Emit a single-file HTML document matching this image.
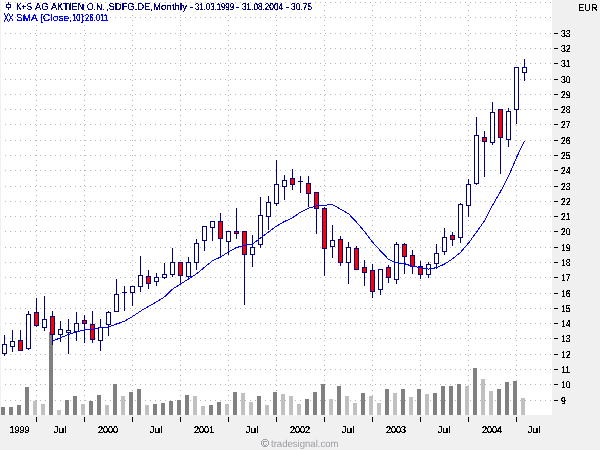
<!DOCTYPE html>
<html><head><meta charset="utf-8"><style>
html,body{margin:0;padding:0;}
body{width:600px;height:450px;background:#f0f0f0;position:relative;overflow:hidden;font-family:"Liberation Sans",Arial,sans-serif;text-rendering:geometricPrecision;}
#chart{position:absolute;left:0;top:0;}
.t{position:absolute;white-space:nowrap;font-size:10px;line-height:11px;filter:url(#th);transform-origin:0 0;transform:scaleX(0.868);}
.yl{position:absolute;left:561px;font-size:10px;line-height:12px;color:#000;filter:url(#th);transform-origin:0 0;transform:scaleX(0.87);}
.xl{position:absolute;top:425px;text-align:center;font-size:10px;line-height:12px;color:#000;filter:url(#th);transform:scaleX(0.9);}
</style></head><body>
<svg width="0" height="0" style="position:absolute"><filter id="th" x="0" y="0" width="100%" height="100%"><feComponentTransfer><feFuncA type="discrete" tableValues="0 1 1"/></feComponentTransfer></filter><filter id="th5" x="0" y="0" width="100%" height="100%"><feComponentTransfer><feFuncA type="discrete" tableValues="0 1"/></feComponentTransfer></filter></svg>
<svg id="chart" width="600" height="450" viewBox="0 0 600 450" shape-rendering="crispEdges">
<rect x="1" y="0" width="551" height="415" fill="#ffffff"/>
<path d="M5 400.5h1M10 400.5h1M15 400.5h1M20 400.5h1M25 400.5h1M30 400.5h1M35 400.5h1M40 400.5h1M45 400.5h1M50 400.5h1M55 400.5h1M60 400.5h1M65 400.5h1M70 400.5h1M75 400.5h1M80 400.5h1M85 400.5h1M90 400.5h1M95 400.5h1M100 400.5h1M105 400.5h1M110 400.5h1M115 400.5h1M120 400.5h1M125 400.5h1M130 400.5h1M135 400.5h1M140 400.5h1M145 400.5h1M150 400.5h1M155 400.5h1M160 400.5h1M165 400.5h1M170 400.5h1M175 400.5h1M180 400.5h1M185 400.5h1M190 400.5h1M195 400.5h1M200 400.5h1M205 400.5h1M210 400.5h1M215 400.5h1M220 400.5h1M225 400.5h1M230 400.5h1M235 400.5h1M240 400.5h1M245 400.5h1M250 400.5h1M255 400.5h1M260 400.5h1M265 400.5h1M270 400.5h1M275 400.5h1M280 400.5h1M285 400.5h1M290 400.5h1M295 400.5h1M300 400.5h1M305 400.5h1M310 400.5h1M315 400.5h1M320 400.5h1M325 400.5h1M330 400.5h1M335 400.5h1M340 400.5h1M345 400.5h1M350 400.5h1M355 400.5h1M360 400.5h1M365 400.5h1M370 400.5h1M375 400.5h1M380 400.5h1M385 400.5h1M390 400.5h1M395 400.5h1M400 400.5h1M405 400.5h1M410 400.5h1M415 400.5h1M420 400.5h1M425 400.5h1M430 400.5h1M435 400.5h1M440 400.5h1M445 400.5h1M450 400.5h1M455 400.5h1M460 400.5h1M465 400.5h1M470 400.5h1M475 400.5h1M480 400.5h1M485 400.5h1M490 400.5h1M495 400.5h1M500 400.5h1M505 400.5h1M510 400.5h1M515 400.5h1M520 400.5h1M525 400.5h1M530 400.5h1M535 400.5h1M540 400.5h1M545 400.5h1M550 400.5h1M5 384.5h1M10 384.5h1M15 384.5h1M20 384.5h1M25 384.5h1M30 384.5h1M35 384.5h1M40 384.5h1M45 384.5h1M50 384.5h1M55 384.5h1M60 384.5h1M65 384.5h1M70 384.5h1M75 384.5h1M80 384.5h1M85 384.5h1M90 384.5h1M95 384.5h1M100 384.5h1M105 384.5h1M110 384.5h1M115 384.5h1M120 384.5h1M125 384.5h1M130 384.5h1M135 384.5h1M140 384.5h1M145 384.5h1M150 384.5h1M155 384.5h1M160 384.5h1M165 384.5h1M170 384.5h1M175 384.5h1M180 384.5h1M185 384.5h1M190 384.5h1M195 384.5h1M200 384.5h1M205 384.5h1M210 384.5h1M215 384.5h1M220 384.5h1M225 384.5h1M230 384.5h1M235 384.5h1M240 384.5h1M245 384.5h1M250 384.5h1M255 384.5h1M260 384.5h1M265 384.5h1M270 384.5h1M275 384.5h1M280 384.5h1M285 384.5h1M290 384.5h1M295 384.5h1M300 384.5h1M305 384.5h1M310 384.5h1M315 384.5h1M320 384.5h1M325 384.5h1M330 384.5h1M335 384.5h1M340 384.5h1M345 384.5h1M350 384.5h1M355 384.5h1M360 384.5h1M365 384.5h1M370 384.5h1M375 384.5h1M380 384.5h1M385 384.5h1M390 384.5h1M395 384.5h1M400 384.5h1M405 384.5h1M410 384.5h1M415 384.5h1M420 384.5h1M425 384.5h1M430 384.5h1M435 384.5h1M440 384.5h1M445 384.5h1M450 384.5h1M455 384.5h1M460 384.5h1M465 384.5h1M470 384.5h1M475 384.5h1M480 384.5h1M485 384.5h1M490 384.5h1M495 384.5h1M500 384.5h1M505 384.5h1M510 384.5h1M515 384.5h1M520 384.5h1M525 384.5h1M530 384.5h1M535 384.5h1M540 384.5h1M545 384.5h1M550 384.5h1M5 369.5h1M10 369.5h1M15 369.5h1M20 369.5h1M25 369.5h1M30 369.5h1M35 369.5h1M40 369.5h1M45 369.5h1M50 369.5h1M55 369.5h1M60 369.5h1M65 369.5h1M70 369.5h1M75 369.5h1M80 369.5h1M85 369.5h1M90 369.5h1M95 369.5h1M100 369.5h1M105 369.5h1M110 369.5h1M115 369.5h1M120 369.5h1M125 369.5h1M130 369.5h1M135 369.5h1M140 369.5h1M145 369.5h1M150 369.5h1M155 369.5h1M160 369.5h1M165 369.5h1M170 369.5h1M175 369.5h1M180 369.5h1M185 369.5h1M190 369.5h1M195 369.5h1M200 369.5h1M205 369.5h1M210 369.5h1M215 369.5h1M220 369.5h1M225 369.5h1M230 369.5h1M235 369.5h1M240 369.5h1M245 369.5h1M250 369.5h1M255 369.5h1M260 369.5h1M265 369.5h1M270 369.5h1M275 369.5h1M280 369.5h1M285 369.5h1M290 369.5h1M295 369.5h1M300 369.5h1M305 369.5h1M310 369.5h1M315 369.5h1M320 369.5h1M325 369.5h1M330 369.5h1M335 369.5h1M340 369.5h1M345 369.5h1M350 369.5h1M355 369.5h1M360 369.5h1M365 369.5h1M370 369.5h1M375 369.5h1M380 369.5h1M385 369.5h1M390 369.5h1M395 369.5h1M400 369.5h1M405 369.5h1M410 369.5h1M415 369.5h1M420 369.5h1M425 369.5h1M430 369.5h1M435 369.5h1M440 369.5h1M445 369.5h1M450 369.5h1M455 369.5h1M460 369.5h1M465 369.5h1M470 369.5h1M475 369.5h1M480 369.5h1M485 369.5h1M490 369.5h1M495 369.5h1M500 369.5h1M505 369.5h1M510 369.5h1M515 369.5h1M520 369.5h1M525 369.5h1M530 369.5h1M535 369.5h1M540 369.5h1M545 369.5h1M550 369.5h1M5 354.5h1M10 354.5h1M15 354.5h1M20 354.5h1M25 354.5h1M30 354.5h1M35 354.5h1M40 354.5h1M45 354.5h1M50 354.5h1M55 354.5h1M60 354.5h1M65 354.5h1M70 354.5h1M75 354.5h1M80 354.5h1M85 354.5h1M90 354.5h1M95 354.5h1M100 354.5h1M105 354.5h1M110 354.5h1M115 354.5h1M120 354.5h1M125 354.5h1M130 354.5h1M135 354.5h1M140 354.5h1M145 354.5h1M150 354.5h1M155 354.5h1M160 354.5h1M165 354.5h1M170 354.5h1M175 354.5h1M180 354.5h1M185 354.5h1M190 354.5h1M195 354.5h1M200 354.5h1M205 354.5h1M210 354.5h1M215 354.5h1M220 354.5h1M225 354.5h1M230 354.5h1M235 354.5h1M240 354.5h1M245 354.5h1M250 354.5h1M255 354.5h1M260 354.5h1M265 354.5h1M270 354.5h1M275 354.5h1M280 354.5h1M285 354.5h1M290 354.5h1M295 354.5h1M300 354.5h1M305 354.5h1M310 354.5h1M315 354.5h1M320 354.5h1M325 354.5h1M330 354.5h1M335 354.5h1M340 354.5h1M345 354.5h1M350 354.5h1M355 354.5h1M360 354.5h1M365 354.5h1M370 354.5h1M375 354.5h1M380 354.5h1M385 354.5h1M390 354.5h1M395 354.5h1M400 354.5h1M405 354.5h1M410 354.5h1M415 354.5h1M420 354.5h1M425 354.5h1M430 354.5h1M435 354.5h1M440 354.5h1M445 354.5h1M450 354.5h1M455 354.5h1M460 354.5h1M465 354.5h1M470 354.5h1M475 354.5h1M480 354.5h1M485 354.5h1M490 354.5h1M495 354.5h1M500 354.5h1M505 354.5h1M510 354.5h1M515 354.5h1M520 354.5h1M525 354.5h1M530 354.5h1M535 354.5h1M540 354.5h1M545 354.5h1M550 354.5h1M5 338.5h1M10 338.5h1M15 338.5h1M20 338.5h1M25 338.5h1M30 338.5h1M35 338.5h1M40 338.5h1M45 338.5h1M50 338.5h1M55 338.5h1M60 338.5h1M65 338.5h1M70 338.5h1M75 338.5h1M80 338.5h1M85 338.5h1M90 338.5h1M95 338.5h1M100 338.5h1M105 338.5h1M110 338.5h1M115 338.5h1M120 338.5h1M125 338.5h1M130 338.5h1M135 338.5h1M140 338.5h1M145 338.5h1M150 338.5h1M155 338.5h1M160 338.5h1M165 338.5h1M170 338.5h1M175 338.5h1M180 338.5h1M185 338.5h1M190 338.5h1M195 338.5h1M200 338.5h1M205 338.5h1M210 338.5h1M215 338.5h1M220 338.5h1M225 338.5h1M230 338.5h1M235 338.5h1M240 338.5h1M245 338.5h1M250 338.5h1M255 338.5h1M260 338.5h1M265 338.5h1M270 338.5h1M275 338.5h1M280 338.5h1M285 338.5h1M290 338.5h1M295 338.5h1M300 338.5h1M305 338.5h1M310 338.5h1M315 338.5h1M320 338.5h1M325 338.5h1M330 338.5h1M335 338.5h1M340 338.5h1M345 338.5h1M350 338.5h1M355 338.5h1M360 338.5h1M365 338.5h1M370 338.5h1M375 338.5h1M380 338.5h1M385 338.5h1M390 338.5h1M395 338.5h1M400 338.5h1M405 338.5h1M410 338.5h1M415 338.5h1M420 338.5h1M425 338.5h1M430 338.5h1M435 338.5h1M440 338.5h1M445 338.5h1M450 338.5h1M455 338.5h1M460 338.5h1M465 338.5h1M470 338.5h1M475 338.5h1M480 338.5h1M485 338.5h1M490 338.5h1M495 338.5h1M500 338.5h1M505 338.5h1M510 338.5h1M515 338.5h1M520 338.5h1M525 338.5h1M530 338.5h1M535 338.5h1M540 338.5h1M545 338.5h1M550 338.5h1M5 323.5h1M10 323.5h1M15 323.5h1M20 323.5h1M25 323.5h1M30 323.5h1M35 323.5h1M40 323.5h1M45 323.5h1M50 323.5h1M55 323.5h1M60 323.5h1M65 323.5h1M70 323.5h1M75 323.5h1M80 323.5h1M85 323.5h1M90 323.5h1M95 323.5h1M100 323.5h1M105 323.5h1M110 323.5h1M115 323.5h1M120 323.5h1M125 323.5h1M130 323.5h1M135 323.5h1M140 323.5h1M145 323.5h1M150 323.5h1M155 323.5h1M160 323.5h1M165 323.5h1M170 323.5h1M175 323.5h1M180 323.5h1M185 323.5h1M190 323.5h1M195 323.5h1M200 323.5h1M205 323.5h1M210 323.5h1M215 323.5h1M220 323.5h1M225 323.5h1M230 323.5h1M235 323.5h1M240 323.5h1M245 323.5h1M250 323.5h1M255 323.5h1M260 323.5h1M265 323.5h1M270 323.5h1M275 323.5h1M280 323.5h1M285 323.5h1M290 323.5h1M295 323.5h1M300 323.5h1M305 323.5h1M310 323.5h1M315 323.5h1M320 323.5h1M325 323.5h1M330 323.5h1M335 323.5h1M340 323.5h1M345 323.5h1M350 323.5h1M355 323.5h1M360 323.5h1M365 323.5h1M370 323.5h1M375 323.5h1M380 323.5h1M385 323.5h1M390 323.5h1M395 323.5h1M400 323.5h1M405 323.5h1M410 323.5h1M415 323.5h1M420 323.5h1M425 323.5h1M430 323.5h1M435 323.5h1M440 323.5h1M445 323.5h1M450 323.5h1M455 323.5h1M460 323.5h1M465 323.5h1M470 323.5h1M475 323.5h1M480 323.5h1M485 323.5h1M490 323.5h1M495 323.5h1M500 323.5h1M505 323.5h1M510 323.5h1M515 323.5h1M520 323.5h1M525 323.5h1M530 323.5h1M535 323.5h1M540 323.5h1M545 323.5h1M550 323.5h1M5 308.5h1M10 308.5h1M15 308.5h1M20 308.5h1M25 308.5h1M30 308.5h1M35 308.5h1M40 308.5h1M45 308.5h1M50 308.5h1M55 308.5h1M60 308.5h1M65 308.5h1M70 308.5h1M75 308.5h1M80 308.5h1M85 308.5h1M90 308.5h1M95 308.5h1M100 308.5h1M105 308.5h1M110 308.5h1M115 308.5h1M120 308.5h1M125 308.5h1M130 308.5h1M135 308.5h1M140 308.5h1M145 308.5h1M150 308.5h1M155 308.5h1M160 308.5h1M165 308.5h1M170 308.5h1M175 308.5h1M180 308.5h1M185 308.5h1M190 308.5h1M195 308.5h1M200 308.5h1M205 308.5h1M210 308.5h1M215 308.5h1M220 308.5h1M225 308.5h1M230 308.5h1M235 308.5h1M240 308.5h1M245 308.5h1M250 308.5h1M255 308.5h1M260 308.5h1M265 308.5h1M270 308.5h1M275 308.5h1M280 308.5h1M285 308.5h1M290 308.5h1M295 308.5h1M300 308.5h1M305 308.5h1M310 308.5h1M315 308.5h1M320 308.5h1M325 308.5h1M330 308.5h1M335 308.5h1M340 308.5h1M345 308.5h1M350 308.5h1M355 308.5h1M360 308.5h1M365 308.5h1M370 308.5h1M375 308.5h1M380 308.5h1M385 308.5h1M390 308.5h1M395 308.5h1M400 308.5h1M405 308.5h1M410 308.5h1M415 308.5h1M420 308.5h1M425 308.5h1M430 308.5h1M435 308.5h1M440 308.5h1M445 308.5h1M450 308.5h1M455 308.5h1M460 308.5h1M465 308.5h1M470 308.5h1M475 308.5h1M480 308.5h1M485 308.5h1M490 308.5h1M495 308.5h1M500 308.5h1M505 308.5h1M510 308.5h1M515 308.5h1M520 308.5h1M525 308.5h1M530 308.5h1M535 308.5h1M540 308.5h1M545 308.5h1M550 308.5h1M5 293.5h1M10 293.5h1M15 293.5h1M20 293.5h1M25 293.5h1M30 293.5h1M35 293.5h1M40 293.5h1M45 293.5h1M50 293.5h1M55 293.5h1M60 293.5h1M65 293.5h1M70 293.5h1M75 293.5h1M80 293.5h1M85 293.5h1M90 293.5h1M95 293.5h1M100 293.5h1M105 293.5h1M110 293.5h1M115 293.5h1M120 293.5h1M125 293.5h1M130 293.5h1M135 293.5h1M140 293.5h1M145 293.5h1M150 293.5h1M155 293.5h1M160 293.5h1M165 293.5h1M170 293.5h1M175 293.5h1M180 293.5h1M185 293.5h1M190 293.5h1M195 293.5h1M200 293.5h1M205 293.5h1M210 293.5h1M215 293.5h1M220 293.5h1M225 293.5h1M230 293.5h1M235 293.5h1M240 293.5h1M245 293.5h1M250 293.5h1M255 293.5h1M260 293.5h1M265 293.5h1M270 293.5h1M275 293.5h1M280 293.5h1M285 293.5h1M290 293.5h1M295 293.5h1M300 293.5h1M305 293.5h1M310 293.5h1M315 293.5h1M320 293.5h1M325 293.5h1M330 293.5h1M335 293.5h1M340 293.5h1M345 293.5h1M350 293.5h1M355 293.5h1M360 293.5h1M365 293.5h1M370 293.5h1M375 293.5h1M380 293.5h1M385 293.5h1M390 293.5h1M395 293.5h1M400 293.5h1M405 293.5h1M410 293.5h1M415 293.5h1M420 293.5h1M425 293.5h1M430 293.5h1M435 293.5h1M440 293.5h1M445 293.5h1M450 293.5h1M455 293.5h1M460 293.5h1M465 293.5h1M470 293.5h1M475 293.5h1M480 293.5h1M485 293.5h1M490 293.5h1M495 293.5h1M500 293.5h1M505 293.5h1M510 293.5h1M515 293.5h1M520 293.5h1M525 293.5h1M530 293.5h1M535 293.5h1M540 293.5h1M545 293.5h1M550 293.5h1M5 277.5h1M10 277.5h1M15 277.5h1M20 277.5h1M25 277.5h1M30 277.5h1M35 277.5h1M40 277.5h1M45 277.5h1M50 277.5h1M55 277.5h1M60 277.5h1M65 277.5h1M70 277.5h1M75 277.5h1M80 277.5h1M85 277.5h1M90 277.5h1M95 277.5h1M100 277.5h1M105 277.5h1M110 277.5h1M115 277.5h1M120 277.5h1M125 277.5h1M130 277.5h1M135 277.5h1M140 277.5h1M145 277.5h1M150 277.5h1M155 277.5h1M160 277.5h1M165 277.5h1M170 277.5h1M175 277.5h1M180 277.5h1M185 277.5h1M190 277.5h1M195 277.5h1M200 277.5h1M205 277.5h1M210 277.5h1M215 277.5h1M220 277.5h1M225 277.5h1M230 277.5h1M235 277.5h1M240 277.5h1M245 277.5h1M250 277.5h1M255 277.5h1M260 277.5h1M265 277.5h1M270 277.5h1M275 277.5h1M280 277.5h1M285 277.5h1M290 277.5h1M295 277.5h1M300 277.5h1M305 277.5h1M310 277.5h1M315 277.5h1M320 277.5h1M325 277.5h1M330 277.5h1M335 277.5h1M340 277.5h1M345 277.5h1M350 277.5h1M355 277.5h1M360 277.5h1M365 277.5h1M370 277.5h1M375 277.5h1M380 277.5h1M385 277.5h1M390 277.5h1M395 277.5h1M400 277.5h1M405 277.5h1M410 277.5h1M415 277.5h1M420 277.5h1M425 277.5h1M430 277.5h1M435 277.5h1M440 277.5h1M445 277.5h1M450 277.5h1M455 277.5h1M460 277.5h1M465 277.5h1M470 277.5h1M475 277.5h1M480 277.5h1M485 277.5h1M490 277.5h1M495 277.5h1M500 277.5h1M505 277.5h1M510 277.5h1M515 277.5h1M520 277.5h1M525 277.5h1M530 277.5h1M535 277.5h1M540 277.5h1M545 277.5h1M550 277.5h1M5 262.5h1M10 262.5h1M15 262.5h1M20 262.5h1M25 262.5h1M30 262.5h1M35 262.5h1M40 262.5h1M45 262.5h1M50 262.5h1M55 262.5h1M60 262.5h1M65 262.5h1M70 262.5h1M75 262.5h1M80 262.5h1M85 262.5h1M90 262.5h1M95 262.5h1M100 262.5h1M105 262.5h1M110 262.5h1M115 262.5h1M120 262.5h1M125 262.5h1M130 262.5h1M135 262.5h1M140 262.5h1M145 262.5h1M150 262.5h1M155 262.5h1M160 262.5h1M165 262.5h1M170 262.5h1M175 262.5h1M180 262.5h1M185 262.5h1M190 262.5h1M195 262.5h1M200 262.5h1M205 262.5h1M210 262.5h1M215 262.5h1M220 262.5h1M225 262.5h1M230 262.5h1M235 262.5h1M240 262.5h1M245 262.5h1M250 262.5h1M255 262.5h1M260 262.5h1M265 262.5h1M270 262.5h1M275 262.5h1M280 262.5h1M285 262.5h1M290 262.5h1M295 262.5h1M300 262.5h1M305 262.5h1M310 262.5h1M315 262.5h1M320 262.5h1M325 262.5h1M330 262.5h1M335 262.5h1M340 262.5h1M345 262.5h1M350 262.5h1M355 262.5h1M360 262.5h1M365 262.5h1M370 262.5h1M375 262.5h1M380 262.5h1M385 262.5h1M390 262.5h1M395 262.5h1M400 262.5h1M405 262.5h1M410 262.5h1M415 262.5h1M420 262.5h1M425 262.5h1M430 262.5h1M435 262.5h1M440 262.5h1M445 262.5h1M450 262.5h1M455 262.5h1M460 262.5h1M465 262.5h1M470 262.5h1M475 262.5h1M480 262.5h1M485 262.5h1M490 262.5h1M495 262.5h1M500 262.5h1M505 262.5h1M510 262.5h1M515 262.5h1M520 262.5h1M525 262.5h1M530 262.5h1M535 262.5h1M540 262.5h1M545 262.5h1M550 262.5h1M5 247.5h1M10 247.5h1M15 247.5h1M20 247.5h1M25 247.5h1M30 247.5h1M35 247.5h1M40 247.5h1M45 247.5h1M50 247.5h1M55 247.5h1M60 247.5h1M65 247.5h1M70 247.5h1M75 247.5h1M80 247.5h1M85 247.5h1M90 247.5h1M95 247.5h1M100 247.5h1M105 247.5h1M110 247.5h1M115 247.5h1M120 247.5h1M125 247.5h1M130 247.5h1M135 247.5h1M140 247.5h1M145 247.5h1M150 247.5h1M155 247.5h1M160 247.5h1M165 247.5h1M170 247.5h1M175 247.5h1M180 247.5h1M185 247.5h1M190 247.5h1M195 247.5h1M200 247.5h1M205 247.5h1M210 247.5h1M215 247.5h1M220 247.5h1M225 247.5h1M230 247.5h1M235 247.5h1M240 247.5h1M245 247.5h1M250 247.5h1M255 247.5h1M260 247.5h1M265 247.5h1M270 247.5h1M275 247.5h1M280 247.5h1M285 247.5h1M290 247.5h1M295 247.5h1M300 247.5h1M305 247.5h1M310 247.5h1M315 247.5h1M320 247.5h1M325 247.5h1M330 247.5h1M335 247.5h1M340 247.5h1M345 247.5h1M350 247.5h1M355 247.5h1M360 247.5h1M365 247.5h1M370 247.5h1M375 247.5h1M380 247.5h1M385 247.5h1M390 247.5h1M395 247.5h1M400 247.5h1M405 247.5h1M410 247.5h1M415 247.5h1M420 247.5h1M425 247.5h1M430 247.5h1M435 247.5h1M440 247.5h1M445 247.5h1M450 247.5h1M455 247.5h1M460 247.5h1M465 247.5h1M470 247.5h1M475 247.5h1M480 247.5h1M485 247.5h1M490 247.5h1M495 247.5h1M500 247.5h1M505 247.5h1M510 247.5h1M515 247.5h1M520 247.5h1M525 247.5h1M530 247.5h1M535 247.5h1M540 247.5h1M545 247.5h1M550 247.5h1M5 231.5h1M10 231.5h1M15 231.5h1M20 231.5h1M25 231.5h1M30 231.5h1M35 231.5h1M40 231.5h1M45 231.5h1M50 231.5h1M55 231.5h1M60 231.5h1M65 231.5h1M70 231.5h1M75 231.5h1M80 231.5h1M85 231.5h1M90 231.5h1M95 231.5h1M100 231.5h1M105 231.5h1M110 231.5h1M115 231.5h1M120 231.5h1M125 231.5h1M130 231.5h1M135 231.5h1M140 231.5h1M145 231.5h1M150 231.5h1M155 231.5h1M160 231.5h1M165 231.5h1M170 231.5h1M175 231.5h1M180 231.5h1M185 231.5h1M190 231.5h1M195 231.5h1M200 231.5h1M205 231.5h1M210 231.5h1M215 231.5h1M220 231.5h1M225 231.5h1M230 231.5h1M235 231.5h1M240 231.5h1M245 231.5h1M250 231.5h1M255 231.5h1M260 231.5h1M265 231.5h1M270 231.5h1M275 231.5h1M280 231.5h1M285 231.5h1M290 231.5h1M295 231.5h1M300 231.5h1M305 231.5h1M310 231.5h1M315 231.5h1M320 231.5h1M325 231.5h1M330 231.5h1M335 231.5h1M340 231.5h1M345 231.5h1M350 231.5h1M355 231.5h1M360 231.5h1M365 231.5h1M370 231.5h1M375 231.5h1M380 231.5h1M385 231.5h1M390 231.5h1M395 231.5h1M400 231.5h1M405 231.5h1M410 231.5h1M415 231.5h1M420 231.5h1M425 231.5h1M430 231.5h1M435 231.5h1M440 231.5h1M445 231.5h1M450 231.5h1M455 231.5h1M460 231.5h1M465 231.5h1M470 231.5h1M475 231.5h1M480 231.5h1M485 231.5h1M490 231.5h1M495 231.5h1M500 231.5h1M505 231.5h1M510 231.5h1M515 231.5h1M520 231.5h1M525 231.5h1M530 231.5h1M535 231.5h1M540 231.5h1M545 231.5h1M550 231.5h1M5 216.5h1M10 216.5h1M15 216.5h1M20 216.5h1M25 216.5h1M30 216.5h1M35 216.5h1M40 216.5h1M45 216.5h1M50 216.5h1M55 216.5h1M60 216.5h1M65 216.5h1M70 216.5h1M75 216.5h1M80 216.5h1M85 216.5h1M90 216.5h1M95 216.5h1M100 216.5h1M105 216.5h1M110 216.5h1M115 216.5h1M120 216.5h1M125 216.5h1M130 216.5h1M135 216.5h1M140 216.5h1M145 216.5h1M150 216.5h1M155 216.5h1M160 216.5h1M165 216.5h1M170 216.5h1M175 216.5h1M180 216.5h1M185 216.5h1M190 216.5h1M195 216.5h1M200 216.5h1M205 216.5h1M210 216.5h1M215 216.5h1M220 216.5h1M225 216.5h1M230 216.5h1M235 216.5h1M240 216.5h1M245 216.5h1M250 216.5h1M255 216.5h1M260 216.5h1M265 216.5h1M270 216.5h1M275 216.5h1M280 216.5h1M285 216.5h1M290 216.5h1M295 216.5h1M300 216.5h1M305 216.5h1M310 216.5h1M315 216.5h1M320 216.5h1M325 216.5h1M330 216.5h1M335 216.5h1M340 216.5h1M345 216.5h1M350 216.5h1M355 216.5h1M360 216.5h1M365 216.5h1M370 216.5h1M375 216.5h1M380 216.5h1M385 216.5h1M390 216.5h1M395 216.5h1M400 216.5h1M405 216.5h1M410 216.5h1M415 216.5h1M420 216.5h1M425 216.5h1M430 216.5h1M435 216.5h1M440 216.5h1M445 216.5h1M450 216.5h1M455 216.5h1M460 216.5h1M465 216.5h1M470 216.5h1M475 216.5h1M480 216.5h1M485 216.5h1M490 216.5h1M495 216.5h1M500 216.5h1M505 216.5h1M510 216.5h1M515 216.5h1M520 216.5h1M525 216.5h1M530 216.5h1M535 216.5h1M540 216.5h1M545 216.5h1M550 216.5h1M5 201.5h1M10 201.5h1M15 201.5h1M20 201.5h1M25 201.5h1M30 201.5h1M35 201.5h1M40 201.5h1M45 201.5h1M50 201.5h1M55 201.5h1M60 201.5h1M65 201.5h1M70 201.5h1M75 201.5h1M80 201.5h1M85 201.5h1M90 201.5h1M95 201.5h1M100 201.5h1M105 201.5h1M110 201.5h1M115 201.5h1M120 201.5h1M125 201.5h1M130 201.5h1M135 201.5h1M140 201.5h1M145 201.5h1M150 201.5h1M155 201.5h1M160 201.5h1M165 201.5h1M170 201.5h1M175 201.5h1M180 201.5h1M185 201.5h1M190 201.5h1M195 201.5h1M200 201.5h1M205 201.5h1M210 201.5h1M215 201.5h1M220 201.5h1M225 201.5h1M230 201.5h1M235 201.5h1M240 201.5h1M245 201.5h1M250 201.5h1M255 201.5h1M260 201.5h1M265 201.5h1M270 201.5h1M275 201.5h1M280 201.5h1M285 201.5h1M290 201.5h1M295 201.5h1M300 201.5h1M305 201.5h1M310 201.5h1M315 201.5h1M320 201.5h1M325 201.5h1M330 201.5h1M335 201.5h1M340 201.5h1M345 201.5h1M350 201.5h1M355 201.5h1M360 201.5h1M365 201.5h1M370 201.5h1M375 201.5h1M380 201.5h1M385 201.5h1M390 201.5h1M395 201.5h1M400 201.5h1M405 201.5h1M410 201.5h1M415 201.5h1M420 201.5h1M425 201.5h1M430 201.5h1M435 201.5h1M440 201.5h1M445 201.5h1M450 201.5h1M455 201.5h1M460 201.5h1M465 201.5h1M470 201.5h1M475 201.5h1M480 201.5h1M485 201.5h1M490 201.5h1M495 201.5h1M500 201.5h1M505 201.5h1M510 201.5h1M515 201.5h1M520 201.5h1M525 201.5h1M530 201.5h1M535 201.5h1M540 201.5h1M545 201.5h1M550 201.5h1M5 186.5h1M10 186.5h1M15 186.5h1M20 186.5h1M25 186.5h1M30 186.5h1M35 186.5h1M40 186.5h1M45 186.5h1M50 186.5h1M55 186.5h1M60 186.5h1M65 186.5h1M70 186.5h1M75 186.5h1M80 186.5h1M85 186.5h1M90 186.5h1M95 186.5h1M100 186.5h1M105 186.5h1M110 186.5h1M115 186.5h1M120 186.5h1M125 186.5h1M130 186.5h1M135 186.5h1M140 186.5h1M145 186.5h1M150 186.5h1M155 186.5h1M160 186.5h1M165 186.5h1M170 186.5h1M175 186.5h1M180 186.5h1M185 186.5h1M190 186.5h1M195 186.5h1M200 186.5h1M205 186.5h1M210 186.5h1M215 186.5h1M220 186.5h1M225 186.5h1M230 186.5h1M235 186.5h1M240 186.5h1M245 186.5h1M250 186.5h1M255 186.5h1M260 186.5h1M265 186.5h1M270 186.5h1M275 186.5h1M280 186.5h1M285 186.5h1M290 186.5h1M295 186.5h1M300 186.5h1M305 186.5h1M310 186.5h1M315 186.5h1M320 186.5h1M325 186.5h1M330 186.5h1M335 186.5h1M340 186.5h1M345 186.5h1M350 186.5h1M355 186.5h1M360 186.5h1M365 186.5h1M370 186.5h1M375 186.5h1M380 186.5h1M385 186.5h1M390 186.5h1M395 186.5h1M400 186.5h1M405 186.5h1M410 186.5h1M415 186.5h1M420 186.5h1M425 186.5h1M430 186.5h1M435 186.5h1M440 186.5h1M445 186.5h1M450 186.5h1M455 186.5h1M460 186.5h1M465 186.5h1M470 186.5h1M475 186.5h1M480 186.5h1M485 186.5h1M490 186.5h1M495 186.5h1M500 186.5h1M505 186.5h1M510 186.5h1M515 186.5h1M520 186.5h1M525 186.5h1M530 186.5h1M535 186.5h1M540 186.5h1M545 186.5h1M550 186.5h1M5 170.5h1M10 170.5h1M15 170.5h1M20 170.5h1M25 170.5h1M30 170.5h1M35 170.5h1M40 170.5h1M45 170.5h1M50 170.5h1M55 170.5h1M60 170.5h1M65 170.5h1M70 170.5h1M75 170.5h1M80 170.5h1M85 170.5h1M90 170.5h1M95 170.5h1M100 170.5h1M105 170.5h1M110 170.5h1M115 170.5h1M120 170.5h1M125 170.5h1M130 170.5h1M135 170.5h1M140 170.5h1M145 170.5h1M150 170.5h1M155 170.5h1M160 170.5h1M165 170.5h1M170 170.5h1M175 170.5h1M180 170.5h1M185 170.5h1M190 170.5h1M195 170.5h1M200 170.5h1M205 170.5h1M210 170.5h1M215 170.5h1M220 170.5h1M225 170.5h1M230 170.5h1M235 170.5h1M240 170.5h1M245 170.5h1M250 170.5h1M255 170.5h1M260 170.5h1M265 170.5h1M270 170.5h1M275 170.5h1M280 170.5h1M285 170.5h1M290 170.5h1M295 170.5h1M300 170.5h1M305 170.5h1M310 170.5h1M315 170.5h1M320 170.5h1M325 170.5h1M330 170.5h1M335 170.5h1M340 170.5h1M345 170.5h1M350 170.5h1M355 170.5h1M360 170.5h1M365 170.5h1M370 170.5h1M375 170.5h1M380 170.5h1M385 170.5h1M390 170.5h1M395 170.5h1M400 170.5h1M405 170.5h1M410 170.5h1M415 170.5h1M420 170.5h1M425 170.5h1M430 170.5h1M435 170.5h1M440 170.5h1M445 170.5h1M450 170.5h1M455 170.5h1M460 170.5h1M465 170.5h1M470 170.5h1M475 170.5h1M480 170.5h1M485 170.5h1M490 170.5h1M495 170.5h1M500 170.5h1M505 170.5h1M510 170.5h1M515 170.5h1M520 170.5h1M525 170.5h1M530 170.5h1M535 170.5h1M540 170.5h1M545 170.5h1M550 170.5h1M5 155.5h1M10 155.5h1M15 155.5h1M20 155.5h1M25 155.5h1M30 155.5h1M35 155.5h1M40 155.5h1M45 155.5h1M50 155.5h1M55 155.5h1M60 155.5h1M65 155.5h1M70 155.5h1M75 155.5h1M80 155.5h1M85 155.5h1M90 155.5h1M95 155.5h1M100 155.5h1M105 155.5h1M110 155.5h1M115 155.5h1M120 155.5h1M125 155.5h1M130 155.5h1M135 155.5h1M140 155.5h1M145 155.5h1M150 155.5h1M155 155.5h1M160 155.5h1M165 155.5h1M170 155.5h1M175 155.5h1M180 155.5h1M185 155.5h1M190 155.5h1M195 155.5h1M200 155.5h1M205 155.5h1M210 155.5h1M215 155.5h1M220 155.5h1M225 155.5h1M230 155.5h1M235 155.5h1M240 155.5h1M245 155.5h1M250 155.5h1M255 155.5h1M260 155.5h1M265 155.5h1M270 155.5h1M275 155.5h1M280 155.5h1M285 155.5h1M290 155.5h1M295 155.5h1M300 155.5h1M305 155.5h1M310 155.5h1M315 155.5h1M320 155.5h1M325 155.5h1M330 155.5h1M335 155.5h1M340 155.5h1M345 155.5h1M350 155.5h1M355 155.5h1M360 155.5h1M365 155.5h1M370 155.5h1M375 155.5h1M380 155.5h1M385 155.5h1M390 155.5h1M395 155.5h1M400 155.5h1M405 155.5h1M410 155.5h1M415 155.5h1M420 155.5h1M425 155.5h1M430 155.5h1M435 155.5h1M440 155.5h1M445 155.5h1M450 155.5h1M455 155.5h1M460 155.5h1M465 155.5h1M470 155.5h1M475 155.5h1M480 155.5h1M485 155.5h1M490 155.5h1M495 155.5h1M500 155.5h1M505 155.5h1M510 155.5h1M515 155.5h1M520 155.5h1M525 155.5h1M530 155.5h1M535 155.5h1M540 155.5h1M545 155.5h1M550 155.5h1M5 140.5h1M10 140.5h1M15 140.5h1M20 140.5h1M25 140.5h1M30 140.5h1M35 140.5h1M40 140.5h1M45 140.5h1M50 140.5h1M55 140.5h1M60 140.5h1M65 140.5h1M70 140.5h1M75 140.5h1M80 140.5h1M85 140.5h1M90 140.5h1M95 140.5h1M100 140.5h1M105 140.5h1M110 140.5h1M115 140.5h1M120 140.5h1M125 140.5h1M130 140.5h1M135 140.5h1M140 140.5h1M145 140.5h1M150 140.5h1M155 140.5h1M160 140.5h1M165 140.5h1M170 140.5h1M175 140.5h1M180 140.5h1M185 140.5h1M190 140.5h1M195 140.5h1M200 140.5h1M205 140.5h1M210 140.5h1M215 140.5h1M220 140.5h1M225 140.5h1M230 140.5h1M235 140.5h1M240 140.5h1M245 140.5h1M250 140.5h1M255 140.5h1M260 140.5h1M265 140.5h1M270 140.5h1M275 140.5h1M280 140.5h1M285 140.5h1M290 140.5h1M295 140.5h1M300 140.5h1M305 140.5h1M310 140.5h1M315 140.5h1M320 140.5h1M325 140.5h1M330 140.5h1M335 140.5h1M340 140.5h1M345 140.5h1M350 140.5h1M355 140.5h1M360 140.5h1M365 140.5h1M370 140.5h1M375 140.5h1M380 140.5h1M385 140.5h1M390 140.5h1M395 140.5h1M400 140.5h1M405 140.5h1M410 140.5h1M415 140.5h1M420 140.5h1M425 140.5h1M430 140.5h1M435 140.5h1M440 140.5h1M445 140.5h1M450 140.5h1M455 140.5h1M460 140.5h1M465 140.5h1M470 140.5h1M475 140.5h1M480 140.5h1M485 140.5h1M490 140.5h1M495 140.5h1M500 140.5h1M505 140.5h1M510 140.5h1M515 140.5h1M520 140.5h1M525 140.5h1M530 140.5h1M535 140.5h1M540 140.5h1M545 140.5h1M550 140.5h1M5 124.5h1M10 124.5h1M15 124.5h1M20 124.5h1M25 124.5h1M30 124.5h1M35 124.5h1M40 124.5h1M45 124.5h1M50 124.5h1M55 124.5h1M60 124.5h1M65 124.5h1M70 124.5h1M75 124.5h1M80 124.5h1M85 124.5h1M90 124.5h1M95 124.5h1M100 124.5h1M105 124.5h1M110 124.5h1M115 124.5h1M120 124.5h1M125 124.5h1M130 124.5h1M135 124.5h1M140 124.5h1M145 124.5h1M150 124.5h1M155 124.5h1M160 124.5h1M165 124.5h1M170 124.5h1M175 124.5h1M180 124.5h1M185 124.5h1M190 124.5h1M195 124.5h1M200 124.5h1M205 124.5h1M210 124.5h1M215 124.5h1M220 124.5h1M225 124.5h1M230 124.5h1M235 124.5h1M240 124.5h1M245 124.5h1M250 124.5h1M255 124.5h1M260 124.5h1M265 124.5h1M270 124.5h1M275 124.5h1M280 124.5h1M285 124.5h1M290 124.5h1M295 124.5h1M300 124.5h1M305 124.5h1M310 124.5h1M315 124.5h1M320 124.5h1M325 124.5h1M330 124.5h1M335 124.5h1M340 124.5h1M345 124.5h1M350 124.5h1M355 124.5h1M360 124.5h1M365 124.5h1M370 124.5h1M375 124.5h1M380 124.5h1M385 124.5h1M390 124.5h1M395 124.5h1M400 124.5h1M405 124.5h1M410 124.5h1M415 124.5h1M420 124.5h1M425 124.5h1M430 124.5h1M435 124.5h1M440 124.5h1M445 124.5h1M450 124.5h1M455 124.5h1M460 124.5h1M465 124.5h1M470 124.5h1M475 124.5h1M480 124.5h1M485 124.5h1M490 124.5h1M495 124.5h1M500 124.5h1M505 124.5h1M510 124.5h1M515 124.5h1M520 124.5h1M525 124.5h1M530 124.5h1M535 124.5h1M540 124.5h1M545 124.5h1M550 124.5h1M5 109.5h1M10 109.5h1M15 109.5h1M20 109.5h1M25 109.5h1M30 109.5h1M35 109.5h1M40 109.5h1M45 109.5h1M50 109.5h1M55 109.5h1M60 109.5h1M65 109.5h1M70 109.5h1M75 109.5h1M80 109.5h1M85 109.5h1M90 109.5h1M95 109.5h1M100 109.5h1M105 109.5h1M110 109.5h1M115 109.5h1M120 109.5h1M125 109.5h1M130 109.5h1M135 109.5h1M140 109.5h1M145 109.5h1M150 109.5h1M155 109.5h1M160 109.5h1M165 109.5h1M170 109.5h1M175 109.5h1M180 109.5h1M185 109.5h1M190 109.5h1M195 109.5h1M200 109.5h1M205 109.5h1M210 109.5h1M215 109.5h1M220 109.5h1M225 109.5h1M230 109.5h1M235 109.5h1M240 109.5h1M245 109.5h1M250 109.5h1M255 109.5h1M260 109.5h1M265 109.5h1M270 109.5h1M275 109.5h1M280 109.5h1M285 109.5h1M290 109.5h1M295 109.5h1M300 109.5h1M305 109.5h1M310 109.5h1M315 109.5h1M320 109.5h1M325 109.5h1M330 109.5h1M335 109.5h1M340 109.5h1M345 109.5h1M350 109.5h1M355 109.5h1M360 109.5h1M365 109.5h1M370 109.5h1M375 109.5h1M380 109.5h1M385 109.5h1M390 109.5h1M395 109.5h1M400 109.5h1M405 109.5h1M410 109.5h1M415 109.5h1M420 109.5h1M425 109.5h1M430 109.5h1M435 109.5h1M440 109.5h1M445 109.5h1M450 109.5h1M455 109.5h1M460 109.5h1M465 109.5h1M470 109.5h1M475 109.5h1M480 109.5h1M485 109.5h1M490 109.5h1M495 109.5h1M500 109.5h1M505 109.5h1M510 109.5h1M515 109.5h1M520 109.5h1M525 109.5h1M530 109.5h1M535 109.5h1M540 109.5h1M545 109.5h1M550 109.5h1M5 94.5h1M10 94.5h1M15 94.5h1M20 94.5h1M25 94.5h1M30 94.5h1M35 94.5h1M40 94.5h1M45 94.5h1M50 94.5h1M55 94.5h1M60 94.5h1M65 94.5h1M70 94.5h1M75 94.5h1M80 94.5h1M85 94.5h1M90 94.5h1M95 94.5h1M100 94.5h1M105 94.5h1M110 94.5h1M115 94.5h1M120 94.5h1M125 94.5h1M130 94.5h1M135 94.5h1M140 94.5h1M145 94.5h1M150 94.5h1M155 94.5h1M160 94.5h1M165 94.5h1M170 94.5h1M175 94.5h1M180 94.5h1M185 94.5h1M190 94.5h1M195 94.5h1M200 94.5h1M205 94.5h1M210 94.5h1M215 94.5h1M220 94.5h1M225 94.5h1M230 94.5h1M235 94.5h1M240 94.5h1M245 94.5h1M250 94.5h1M255 94.5h1M260 94.5h1M265 94.5h1M270 94.5h1M275 94.5h1M280 94.5h1M285 94.5h1M290 94.5h1M295 94.5h1M300 94.5h1M305 94.5h1M310 94.5h1M315 94.5h1M320 94.5h1M325 94.5h1M330 94.5h1M335 94.5h1M340 94.5h1M345 94.5h1M350 94.5h1M355 94.5h1M360 94.5h1M365 94.5h1M370 94.5h1M375 94.5h1M380 94.5h1M385 94.5h1M390 94.5h1M395 94.5h1M400 94.5h1M405 94.5h1M410 94.5h1M415 94.5h1M420 94.5h1M425 94.5h1M430 94.5h1M435 94.5h1M440 94.5h1M445 94.5h1M450 94.5h1M455 94.5h1M460 94.5h1M465 94.5h1M470 94.5h1M475 94.5h1M480 94.5h1M485 94.5h1M490 94.5h1M495 94.5h1M500 94.5h1M505 94.5h1M510 94.5h1M515 94.5h1M520 94.5h1M525 94.5h1M530 94.5h1M535 94.5h1M540 94.5h1M545 94.5h1M550 94.5h1M5 79.5h1M10 79.5h1M15 79.5h1M20 79.5h1M25 79.5h1M30 79.5h1M35 79.5h1M40 79.5h1M45 79.5h1M50 79.5h1M55 79.5h1M60 79.5h1M65 79.5h1M70 79.5h1M75 79.5h1M80 79.5h1M85 79.5h1M90 79.5h1M95 79.5h1M100 79.5h1M105 79.5h1M110 79.5h1M115 79.5h1M120 79.5h1M125 79.5h1M130 79.5h1M135 79.5h1M140 79.5h1M145 79.5h1M150 79.5h1M155 79.5h1M160 79.5h1M165 79.5h1M170 79.5h1M175 79.5h1M180 79.5h1M185 79.5h1M190 79.5h1M195 79.5h1M200 79.5h1M205 79.5h1M210 79.5h1M215 79.5h1M220 79.5h1M225 79.5h1M230 79.5h1M235 79.5h1M240 79.5h1M245 79.5h1M250 79.5h1M255 79.5h1M260 79.5h1M265 79.5h1M270 79.5h1M275 79.5h1M280 79.5h1M285 79.5h1M290 79.5h1M295 79.5h1M300 79.5h1M305 79.5h1M310 79.5h1M315 79.5h1M320 79.5h1M325 79.5h1M330 79.5h1M335 79.5h1M340 79.5h1M345 79.5h1M350 79.5h1M355 79.5h1M360 79.5h1M365 79.5h1M370 79.5h1M375 79.5h1M380 79.5h1M385 79.5h1M390 79.5h1M395 79.5h1M400 79.5h1M405 79.5h1M410 79.5h1M415 79.5h1M420 79.5h1M425 79.5h1M430 79.5h1M435 79.5h1M440 79.5h1M445 79.5h1M450 79.5h1M455 79.5h1M460 79.5h1M465 79.5h1M470 79.5h1M475 79.5h1M480 79.5h1M485 79.5h1M490 79.5h1M495 79.5h1M500 79.5h1M505 79.5h1M510 79.5h1M515 79.5h1M520 79.5h1M525 79.5h1M530 79.5h1M535 79.5h1M540 79.5h1M545 79.5h1M550 79.5h1M5 63.5h1M10 63.5h1M15 63.5h1M20 63.5h1M25 63.5h1M30 63.5h1M35 63.5h1M40 63.5h1M45 63.5h1M50 63.5h1M55 63.5h1M60 63.5h1M65 63.5h1M70 63.5h1M75 63.5h1M80 63.5h1M85 63.5h1M90 63.5h1M95 63.5h1M100 63.5h1M105 63.5h1M110 63.5h1M115 63.5h1M120 63.5h1M125 63.5h1M130 63.5h1M135 63.5h1M140 63.5h1M145 63.5h1M150 63.5h1M155 63.5h1M160 63.5h1M165 63.5h1M170 63.5h1M175 63.5h1M180 63.5h1M185 63.5h1M190 63.5h1M195 63.5h1M200 63.5h1M205 63.5h1M210 63.5h1M215 63.5h1M220 63.5h1M225 63.5h1M230 63.5h1M235 63.5h1M240 63.5h1M245 63.5h1M250 63.5h1M255 63.5h1M260 63.5h1M265 63.5h1M270 63.5h1M275 63.5h1M280 63.5h1M285 63.5h1M290 63.5h1M295 63.5h1M300 63.5h1M305 63.5h1M310 63.5h1M315 63.5h1M320 63.5h1M325 63.5h1M330 63.5h1M335 63.5h1M340 63.5h1M345 63.5h1M350 63.5h1M355 63.5h1M360 63.5h1M365 63.5h1M370 63.5h1M375 63.5h1M380 63.5h1M385 63.5h1M390 63.5h1M395 63.5h1M400 63.5h1M405 63.5h1M410 63.5h1M415 63.5h1M420 63.5h1M425 63.5h1M430 63.5h1M435 63.5h1M440 63.5h1M445 63.5h1M450 63.5h1M455 63.5h1M460 63.5h1M465 63.5h1M470 63.5h1M475 63.5h1M480 63.5h1M485 63.5h1M490 63.5h1M495 63.5h1M500 63.5h1M505 63.5h1M510 63.5h1M515 63.5h1M520 63.5h1M525 63.5h1M530 63.5h1M535 63.5h1M540 63.5h1M545 63.5h1M550 63.5h1M5 48.5h1M10 48.5h1M15 48.5h1M20 48.5h1M25 48.5h1M30 48.5h1M35 48.5h1M40 48.5h1M45 48.5h1M50 48.5h1M55 48.5h1M60 48.5h1M65 48.5h1M70 48.5h1M75 48.5h1M80 48.5h1M85 48.5h1M90 48.5h1M95 48.5h1M100 48.5h1M105 48.5h1M110 48.5h1M115 48.5h1M120 48.5h1M125 48.5h1M130 48.5h1M135 48.5h1M140 48.5h1M145 48.5h1M150 48.5h1M155 48.5h1M160 48.5h1M165 48.5h1M170 48.5h1M175 48.5h1M180 48.5h1M185 48.5h1M190 48.5h1M195 48.5h1M200 48.5h1M205 48.5h1M210 48.5h1M215 48.5h1M220 48.5h1M225 48.5h1M230 48.5h1M235 48.5h1M240 48.5h1M245 48.5h1M250 48.5h1M255 48.5h1M260 48.5h1M265 48.5h1M270 48.5h1M275 48.5h1M280 48.5h1M285 48.5h1M290 48.5h1M295 48.5h1M300 48.5h1M305 48.5h1M310 48.5h1M315 48.5h1M320 48.5h1M325 48.5h1M330 48.5h1M335 48.5h1M340 48.5h1M345 48.5h1M350 48.5h1M355 48.5h1M360 48.5h1M365 48.5h1M370 48.5h1M375 48.5h1M380 48.5h1M385 48.5h1M390 48.5h1M395 48.5h1M400 48.5h1M405 48.5h1M410 48.5h1M415 48.5h1M420 48.5h1M425 48.5h1M430 48.5h1M435 48.5h1M440 48.5h1M445 48.5h1M450 48.5h1M455 48.5h1M460 48.5h1M465 48.5h1M470 48.5h1M475 48.5h1M480 48.5h1M485 48.5h1M490 48.5h1M495 48.5h1M500 48.5h1M505 48.5h1M510 48.5h1M515 48.5h1M520 48.5h1M525 48.5h1M530 48.5h1M535 48.5h1M540 48.5h1M545 48.5h1M550 48.5h1M5 33.5h1M10 33.5h1M15 33.5h1M20 33.5h1M25 33.5h1M30 33.5h1M35 33.5h1M40 33.5h1M45 33.5h1M50 33.5h1M55 33.5h1M60 33.5h1M65 33.5h1M70 33.5h1M75 33.5h1M80 33.5h1M85 33.5h1M90 33.5h1M95 33.5h1M100 33.5h1M105 33.5h1M110 33.5h1M115 33.5h1M120 33.5h1M125 33.5h1M130 33.5h1M135 33.5h1M140 33.5h1M145 33.5h1M150 33.5h1M155 33.5h1M160 33.5h1M165 33.5h1M170 33.5h1M175 33.5h1M180 33.5h1M185 33.5h1M190 33.5h1M195 33.5h1M200 33.5h1M205 33.5h1M210 33.5h1M215 33.5h1M220 33.5h1M225 33.5h1M230 33.5h1M235 33.5h1M240 33.5h1M245 33.5h1M250 33.5h1M255 33.5h1M260 33.5h1M265 33.5h1M270 33.5h1M275 33.5h1M280 33.5h1M285 33.5h1M290 33.5h1M295 33.5h1M300 33.5h1M305 33.5h1M310 33.5h1M315 33.5h1M320 33.5h1M325 33.5h1M330 33.5h1M335 33.5h1M340 33.5h1M345 33.5h1M350 33.5h1M355 33.5h1M360 33.5h1M365 33.5h1M370 33.5h1M375 33.5h1M380 33.5h1M385 33.5h1M390 33.5h1M395 33.5h1M400 33.5h1M405 33.5h1M410 33.5h1M415 33.5h1M420 33.5h1M425 33.5h1M430 33.5h1M435 33.5h1M440 33.5h1M445 33.5h1M450 33.5h1M455 33.5h1M460 33.5h1M465 33.5h1M470 33.5h1M475 33.5h1M480 33.5h1M485 33.5h1M490 33.5h1M495 33.5h1M500 33.5h1M505 33.5h1M510 33.5h1M515 33.5h1M520 33.5h1M525 33.5h1M530 33.5h1M535 33.5h1M540 33.5h1M545 33.5h1M550 33.5h1M5 17.5h1M10 17.5h1M15 17.5h1M20 17.5h1M25 17.5h1M30 17.5h1M35 17.5h1M40 17.5h1M45 17.5h1M50 17.5h1M55 17.5h1M60 17.5h1M65 17.5h1M70 17.5h1M75 17.5h1M80 17.5h1M85 17.5h1M90 17.5h1M95 17.5h1M100 17.5h1M105 17.5h1M110 17.5h1M115 17.5h1M120 17.5h1M125 17.5h1M130 17.5h1M135 17.5h1M140 17.5h1M145 17.5h1M150 17.5h1M155 17.5h1M160 17.5h1M165 17.5h1M170 17.5h1M175 17.5h1M180 17.5h1M185 17.5h1M190 17.5h1M195 17.5h1M200 17.5h1M205 17.5h1M210 17.5h1M215 17.5h1M220 17.5h1M225 17.5h1M230 17.5h1M235 17.5h1M240 17.5h1M245 17.5h1M250 17.5h1M255 17.5h1M260 17.5h1M265 17.5h1M270 17.5h1M275 17.5h1M280 17.5h1M285 17.5h1M290 17.5h1M295 17.5h1M300 17.5h1M305 17.5h1M310 17.5h1M315 17.5h1M320 17.5h1M325 17.5h1M330 17.5h1M335 17.5h1M340 17.5h1M345 17.5h1M350 17.5h1M355 17.5h1M360 17.5h1M365 17.5h1M370 17.5h1M375 17.5h1M380 17.5h1M385 17.5h1M390 17.5h1M395 17.5h1M400 17.5h1M405 17.5h1M410 17.5h1M415 17.5h1M420 17.5h1M425 17.5h1M430 17.5h1M435 17.5h1M440 17.5h1M445 17.5h1M450 17.5h1M455 17.5h1M460 17.5h1M465 17.5h1M470 17.5h1M475 17.5h1M480 17.5h1M485 17.5h1M490 17.5h1M495 17.5h1M500 17.5h1M505 17.5h1M510 17.5h1M515 17.5h1M520 17.5h1M525 17.5h1M530 17.5h1M535 17.5h1M540 17.5h1M545 17.5h1M550 17.5h1M5 2.5h1M10 2.5h1M15 2.5h1M20 2.5h1M25 2.5h1M30 2.5h1M35 2.5h1M40 2.5h1M45 2.5h1M50 2.5h1M55 2.5h1M60 2.5h1M65 2.5h1M70 2.5h1M75 2.5h1M80 2.5h1M85 2.5h1M90 2.5h1M95 2.5h1M100 2.5h1M105 2.5h1M110 2.5h1M115 2.5h1M120 2.5h1M125 2.5h1M130 2.5h1M135 2.5h1M140 2.5h1M145 2.5h1M150 2.5h1M155 2.5h1M160 2.5h1M165 2.5h1M170 2.5h1M175 2.5h1M180 2.5h1M185 2.5h1M190 2.5h1M195 2.5h1M200 2.5h1M205 2.5h1M210 2.5h1M215 2.5h1M220 2.5h1M225 2.5h1M230 2.5h1M235 2.5h1M240 2.5h1M245 2.5h1M250 2.5h1M255 2.5h1M260 2.5h1M265 2.5h1M270 2.5h1M275 2.5h1M280 2.5h1M285 2.5h1M290 2.5h1M295 2.5h1M300 2.5h1M305 2.5h1M310 2.5h1M315 2.5h1M320 2.5h1M325 2.5h1M330 2.5h1M335 2.5h1M340 2.5h1M345 2.5h1M350 2.5h1M355 2.5h1M360 2.5h1M365 2.5h1M370 2.5h1M375 2.5h1M380 2.5h1M385 2.5h1M390 2.5h1M395 2.5h1M400 2.5h1M405 2.5h1M410 2.5h1M415 2.5h1M420 2.5h1M425 2.5h1M430 2.5h1M435 2.5h1M440 2.5h1M445 2.5h1M450 2.5h1M455 2.5h1M460 2.5h1M465 2.5h1M470 2.5h1M475 2.5h1M480 2.5h1M485 2.5h1M490 2.5h1M495 2.5h1M500 2.5h1M505 2.5h1M510 2.5h1M515 2.5h1M520 2.5h1M525 2.5h1M530 2.5h1M535 2.5h1M540 2.5h1M545 2.5h1M550 2.5h1M36 5.5h1M36 10.5h1M36 15.5h1M36 20.5h1M36 25.5h1M36 30.5h1M36 35.5h1M36 40.5h1M36 45.5h1M36 50.5h1M36 55.5h1M36 60.5h1M36 65.5h1M36 70.5h1M36 75.5h1M36 80.5h1M36 85.5h1M36 90.5h1M36 95.5h1M36 100.5h1M36 105.5h1M36 110.5h1M36 115.5h1M36 120.5h1M36 125.5h1M36 130.5h1M36 135.5h1M36 140.5h1M36 145.5h1M36 150.5h1M36 155.5h1M36 160.5h1M36 165.5h1M36 170.5h1M36 175.5h1M36 180.5h1M36 185.5h1M36 190.5h1M36 195.5h1M36 200.5h1M36 205.5h1M36 210.5h1M36 215.5h1M36 220.5h1M36 225.5h1M36 230.5h1M36 235.5h1M36 240.5h1M36 245.5h1M36 250.5h1M36 255.5h1M36 260.5h1M36 265.5h1M36 270.5h1M36 275.5h1M36 280.5h1M36 285.5h1M36 290.5h1M36 295.5h1M36 300.5h1M36 305.5h1M36 310.5h1M36 315.5h1M36 320.5h1M36 325.5h1M36 330.5h1M36 335.5h1M36 340.5h1M36 345.5h1M36 350.5h1M36 355.5h1M36 360.5h1M36 365.5h1M36 370.5h1M36 375.5h1M36 380.5h1M36 385.5h1M36 390.5h1M36 395.5h1M36 400.5h1M36 405.5h1M36 410.5h1M84 5.5h1M84 10.5h1M84 15.5h1M84 20.5h1M84 25.5h1M84 30.5h1M84 35.5h1M84 40.5h1M84 45.5h1M84 50.5h1M84 55.5h1M84 60.5h1M84 65.5h1M84 70.5h1M84 75.5h1M84 80.5h1M84 85.5h1M84 90.5h1M84 95.5h1M84 100.5h1M84 105.5h1M84 110.5h1M84 115.5h1M84 120.5h1M84 125.5h1M84 130.5h1M84 135.5h1M84 140.5h1M84 145.5h1M84 150.5h1M84 155.5h1M84 160.5h1M84 165.5h1M84 170.5h1M84 175.5h1M84 180.5h1M84 185.5h1M84 190.5h1M84 195.5h1M84 200.5h1M84 205.5h1M84 210.5h1M84 215.5h1M84 220.5h1M84 225.5h1M84 230.5h1M84 235.5h1M84 240.5h1M84 245.5h1M84 250.5h1M84 255.5h1M84 260.5h1M84 265.5h1M84 270.5h1M84 275.5h1M84 280.5h1M84 285.5h1M84 290.5h1M84 295.5h1M84 300.5h1M84 305.5h1M84 310.5h1M84 315.5h1M84 320.5h1M84 325.5h1M84 330.5h1M84 335.5h1M84 340.5h1M84 345.5h1M84 350.5h1M84 355.5h1M84 360.5h1M84 365.5h1M84 370.5h1M84 375.5h1M84 380.5h1M84 385.5h1M84 390.5h1M84 395.5h1M84 400.5h1M84 405.5h1M84 410.5h1M132 5.5h1M132 10.5h1M132 15.5h1M132 20.5h1M132 25.5h1M132 30.5h1M132 35.5h1M132 40.5h1M132 45.5h1M132 50.5h1M132 55.5h1M132 60.5h1M132 65.5h1M132 70.5h1M132 75.5h1M132 80.5h1M132 85.5h1M132 90.5h1M132 95.5h1M132 100.5h1M132 105.5h1M132 110.5h1M132 115.5h1M132 120.5h1M132 125.5h1M132 130.5h1M132 135.5h1M132 140.5h1M132 145.5h1M132 150.5h1M132 155.5h1M132 160.5h1M132 165.5h1M132 170.5h1M132 175.5h1M132 180.5h1M132 185.5h1M132 190.5h1M132 195.5h1M132 200.5h1M132 205.5h1M132 210.5h1M132 215.5h1M132 220.5h1M132 225.5h1M132 230.5h1M132 235.5h1M132 240.5h1M132 245.5h1M132 250.5h1M132 255.5h1M132 260.5h1M132 265.5h1M132 270.5h1M132 275.5h1M132 280.5h1M132 285.5h1M132 290.5h1M132 295.5h1M132 300.5h1M132 305.5h1M132 310.5h1M132 315.5h1M132 320.5h1M132 325.5h1M132 330.5h1M132 335.5h1M132 340.5h1M132 345.5h1M132 350.5h1M132 355.5h1M132 360.5h1M132 365.5h1M132 370.5h1M132 375.5h1M132 380.5h1M132 385.5h1M132 390.5h1M132 395.5h1M132 400.5h1M132 405.5h1M132 410.5h1M180 5.5h1M180 10.5h1M180 15.5h1M180 20.5h1M180 25.5h1M180 30.5h1M180 35.5h1M180 40.5h1M180 45.5h1M180 50.5h1M180 55.5h1M180 60.5h1M180 65.5h1M180 70.5h1M180 75.5h1M180 80.5h1M180 85.5h1M180 90.5h1M180 95.5h1M180 100.5h1M180 105.5h1M180 110.5h1M180 115.5h1M180 120.5h1M180 125.5h1M180 130.5h1M180 135.5h1M180 140.5h1M180 145.5h1M180 150.5h1M180 155.5h1M180 160.5h1M180 165.5h1M180 170.5h1M180 175.5h1M180 180.5h1M180 185.5h1M180 190.5h1M180 195.5h1M180 200.5h1M180 205.5h1M180 210.5h1M180 215.5h1M180 220.5h1M180 225.5h1M180 230.5h1M180 235.5h1M180 240.5h1M180 245.5h1M180 250.5h1M180 255.5h1M180 260.5h1M180 265.5h1M180 270.5h1M180 275.5h1M180 280.5h1M180 285.5h1M180 290.5h1M180 295.5h1M180 300.5h1M180 305.5h1M180 310.5h1M180 315.5h1M180 320.5h1M180 325.5h1M180 330.5h1M180 335.5h1M180 340.5h1M180 345.5h1M180 350.5h1M180 355.5h1M180 360.5h1M180 365.5h1M180 370.5h1M180 375.5h1M180 380.5h1M180 385.5h1M180 390.5h1M180 395.5h1M180 400.5h1M180 405.5h1M180 410.5h1M228 5.5h1M228 10.5h1M228 15.5h1M228 20.5h1M228 25.5h1M228 30.5h1M228 35.5h1M228 40.5h1M228 45.5h1M228 50.5h1M228 55.5h1M228 60.5h1M228 65.5h1M228 70.5h1M228 75.5h1M228 80.5h1M228 85.5h1M228 90.5h1M228 95.5h1M228 100.5h1M228 105.5h1M228 110.5h1M228 115.5h1M228 120.5h1M228 125.5h1M228 130.5h1M228 135.5h1M228 140.5h1M228 145.5h1M228 150.5h1M228 155.5h1M228 160.5h1M228 165.5h1M228 170.5h1M228 175.5h1M228 180.5h1M228 185.5h1M228 190.5h1M228 195.5h1M228 200.5h1M228 205.5h1M228 210.5h1M228 215.5h1M228 220.5h1M228 225.5h1M228 230.5h1M228 235.5h1M228 240.5h1M228 245.5h1M228 250.5h1M228 255.5h1M228 260.5h1M228 265.5h1M228 270.5h1M228 275.5h1M228 280.5h1M228 285.5h1M228 290.5h1M228 295.5h1M228 300.5h1M228 305.5h1M228 310.5h1M228 315.5h1M228 320.5h1M228 325.5h1M228 330.5h1M228 335.5h1M228 340.5h1M228 345.5h1M228 350.5h1M228 355.5h1M228 360.5h1M228 365.5h1M228 370.5h1M228 375.5h1M228 380.5h1M228 385.5h1M228 390.5h1M228 395.5h1M228 400.5h1M228 405.5h1M228 410.5h1M276 5.5h1M276 10.5h1M276 15.5h1M276 20.5h1M276 25.5h1M276 30.5h1M276 35.5h1M276 40.5h1M276 45.5h1M276 50.5h1M276 55.5h1M276 60.5h1M276 65.5h1M276 70.5h1M276 75.5h1M276 80.5h1M276 85.5h1M276 90.5h1M276 95.5h1M276 100.5h1M276 105.5h1M276 110.5h1M276 115.5h1M276 120.5h1M276 125.5h1M276 130.5h1M276 135.5h1M276 140.5h1M276 145.5h1M276 150.5h1M276 155.5h1M276 160.5h1M276 165.5h1M276 170.5h1M276 175.5h1M276 180.5h1M276 185.5h1M276 190.5h1M276 195.5h1M276 200.5h1M276 205.5h1M276 210.5h1M276 215.5h1M276 220.5h1M276 225.5h1M276 230.5h1M276 235.5h1M276 240.5h1M276 245.5h1M276 250.5h1M276 255.5h1M276 260.5h1M276 265.5h1M276 270.5h1M276 275.5h1M276 280.5h1M276 285.5h1M276 290.5h1M276 295.5h1M276 300.5h1M276 305.5h1M276 310.5h1M276 315.5h1M276 320.5h1M276 325.5h1M276 330.5h1M276 335.5h1M276 340.5h1M276 345.5h1M276 350.5h1M276 355.5h1M276 360.5h1M276 365.5h1M276 370.5h1M276 375.5h1M276 380.5h1M276 385.5h1M276 390.5h1M276 395.5h1M276 400.5h1M276 405.5h1M276 410.5h1M324 5.5h1M324 10.5h1M324 15.5h1M324 20.5h1M324 25.5h1M324 30.5h1M324 35.5h1M324 40.5h1M324 45.5h1M324 50.5h1M324 55.5h1M324 60.5h1M324 65.5h1M324 70.5h1M324 75.5h1M324 80.5h1M324 85.5h1M324 90.5h1M324 95.5h1M324 100.5h1M324 105.5h1M324 110.5h1M324 115.5h1M324 120.5h1M324 125.5h1M324 130.5h1M324 135.5h1M324 140.5h1M324 145.5h1M324 150.5h1M324 155.5h1M324 160.5h1M324 165.5h1M324 170.5h1M324 175.5h1M324 180.5h1M324 185.5h1M324 190.5h1M324 195.5h1M324 200.5h1M324 205.5h1M324 210.5h1M324 215.5h1M324 220.5h1M324 225.5h1M324 230.5h1M324 235.5h1M324 240.5h1M324 245.5h1M324 250.5h1M324 255.5h1M324 260.5h1M324 265.5h1M324 270.5h1M324 275.5h1M324 280.5h1M324 285.5h1M324 290.5h1M324 295.5h1M324 300.5h1M324 305.5h1M324 310.5h1M324 315.5h1M324 320.5h1M324 325.5h1M324 330.5h1M324 335.5h1M324 340.5h1M324 345.5h1M324 350.5h1M324 355.5h1M324 360.5h1M324 365.5h1M324 370.5h1M324 375.5h1M324 380.5h1M324 385.5h1M324 390.5h1M324 395.5h1M324 400.5h1M324 405.5h1M324 410.5h1M372 5.5h1M372 10.5h1M372 15.5h1M372 20.5h1M372 25.5h1M372 30.5h1M372 35.5h1M372 40.5h1M372 45.5h1M372 50.5h1M372 55.5h1M372 60.5h1M372 65.5h1M372 70.5h1M372 75.5h1M372 80.5h1M372 85.5h1M372 90.5h1M372 95.5h1M372 100.5h1M372 105.5h1M372 110.5h1M372 115.5h1M372 120.5h1M372 125.5h1M372 130.5h1M372 135.5h1M372 140.5h1M372 145.5h1M372 150.5h1M372 155.5h1M372 160.5h1M372 165.5h1M372 170.5h1M372 175.5h1M372 180.5h1M372 185.5h1M372 190.5h1M372 195.5h1M372 200.5h1M372 205.5h1M372 210.5h1M372 215.5h1M372 220.5h1M372 225.5h1M372 230.5h1M372 235.5h1M372 240.5h1M372 245.5h1M372 250.5h1M372 255.5h1M372 260.5h1M372 265.5h1M372 270.5h1M372 275.5h1M372 280.5h1M372 285.5h1M372 290.5h1M372 295.5h1M372 300.5h1M372 305.5h1M372 310.5h1M372 315.5h1M372 320.5h1M372 325.5h1M372 330.5h1M372 335.5h1M372 340.5h1M372 345.5h1M372 350.5h1M372 355.5h1M372 360.5h1M372 365.5h1M372 370.5h1M372 375.5h1M372 380.5h1M372 385.5h1M372 390.5h1M372 395.5h1M372 400.5h1M372 405.5h1M372 410.5h1M420 5.5h1M420 10.5h1M420 15.5h1M420 20.5h1M420 25.5h1M420 30.5h1M420 35.5h1M420 40.5h1M420 45.5h1M420 50.5h1M420 55.5h1M420 60.5h1M420 65.5h1M420 70.5h1M420 75.5h1M420 80.5h1M420 85.5h1M420 90.5h1M420 95.5h1M420 100.5h1M420 105.5h1M420 110.5h1M420 115.5h1M420 120.5h1M420 125.5h1M420 130.5h1M420 135.5h1M420 140.5h1M420 145.5h1M420 150.5h1M420 155.5h1M420 160.5h1M420 165.5h1M420 170.5h1M420 175.5h1M420 180.5h1M420 185.5h1M420 190.5h1M420 195.5h1M420 200.5h1M420 205.5h1M420 210.5h1M420 215.5h1M420 220.5h1M420 225.5h1M420 230.5h1M420 235.5h1M420 240.5h1M420 245.5h1M420 250.5h1M420 255.5h1M420 260.5h1M420 265.5h1M420 270.5h1M420 275.5h1M420 280.5h1M420 285.5h1M420 290.5h1M420 295.5h1M420 300.5h1M420 305.5h1M420 310.5h1M420 315.5h1M420 320.5h1M420 325.5h1M420 330.5h1M420 335.5h1M420 340.5h1M420 345.5h1M420 350.5h1M420 355.5h1M420 360.5h1M420 365.5h1M420 370.5h1M420 375.5h1M420 380.5h1M420 385.5h1M420 390.5h1M420 395.5h1M420 400.5h1M420 405.5h1M420 410.5h1M468 5.5h1M468 10.5h1M468 15.5h1M468 20.5h1M468 25.5h1M468 30.5h1M468 35.5h1M468 40.5h1M468 45.5h1M468 50.5h1M468 55.5h1M468 60.5h1M468 65.5h1M468 70.5h1M468 75.5h1M468 80.5h1M468 85.5h1M468 90.5h1M468 95.5h1M468 100.5h1M468 105.5h1M468 110.5h1M468 115.5h1M468 120.5h1M468 125.5h1M468 130.5h1M468 135.5h1M468 140.5h1M468 145.5h1M468 150.5h1M468 155.5h1M468 160.5h1M468 165.5h1M468 170.5h1M468 175.5h1M468 180.5h1M468 185.5h1M468 190.5h1M468 195.5h1M468 200.5h1M468 205.5h1M468 210.5h1M468 215.5h1M468 220.5h1M468 225.5h1M468 230.5h1M468 235.5h1M468 240.5h1M468 245.5h1M468 250.5h1M468 255.5h1M468 260.5h1M468 265.5h1M468 270.5h1M468 275.5h1M468 280.5h1M468 285.5h1M468 290.5h1M468 295.5h1M468 300.5h1M468 305.5h1M468 310.5h1M468 315.5h1M468 320.5h1M468 325.5h1M468 330.5h1M468 335.5h1M468 340.5h1M468 345.5h1M468 350.5h1M468 355.5h1M468 360.5h1M468 365.5h1M468 370.5h1M468 375.5h1M468 380.5h1M468 385.5h1M468 390.5h1M468 395.5h1M468 400.5h1M468 405.5h1M468 410.5h1M516 5.5h1M516 10.5h1M516 15.5h1M516 20.5h1M516 25.5h1M516 30.5h1M516 35.5h1M516 40.5h1M516 45.5h1M516 50.5h1M516 55.5h1M516 60.5h1M516 65.5h1M516 70.5h1M516 75.5h1M516 80.5h1M516 85.5h1M516 90.5h1M516 95.5h1M516 100.5h1M516 105.5h1M516 110.5h1M516 115.5h1M516 120.5h1M516 125.5h1M516 130.5h1M516 135.5h1M516 140.5h1M516 145.5h1M516 150.5h1M516 155.5h1M516 160.5h1M516 165.5h1M516 170.5h1M516 175.5h1M516 180.5h1M516 185.5h1M516 190.5h1M516 195.5h1M516 200.5h1M516 205.5h1M516 210.5h1M516 215.5h1M516 220.5h1M516 225.5h1M516 230.5h1M516 235.5h1M516 240.5h1M516 245.5h1M516 250.5h1M516 255.5h1M516 260.5h1M516 265.5h1M516 270.5h1M516 275.5h1M516 280.5h1M516 285.5h1M516 290.5h1M516 295.5h1M516 300.5h1M516 305.5h1M516 310.5h1M516 315.5h1M516 320.5h1M516 325.5h1M516 330.5h1M516 335.5h1M516 340.5h1M516 345.5h1M516 350.5h1M516 355.5h1M516 360.5h1M516 365.5h1M516 370.5h1M516 375.5h1M516 380.5h1M516 385.5h1M516 390.5h1M516 395.5h1M516 400.5h1M516 405.5h1M516 410.5h1" stroke="#b6b5bc" stroke-width="1" fill="none"/>
<path d="M1 407h4v8h-4zM9 407h4v8h-4zM17 405h4v10h-4zM25 387h4v28h-4zM49 332h4v83h-4zM65 400h4v15h-4zM73 396h4v19h-4zM89 401h4v14h-4zM97 395h4v20h-4zM113 384h4v31h-4zM129 392h4v23h-4zM137 389h4v26h-4zM153 404h4v11h-4zM161 403h4v12h-4zM169 401h4v14h-4zM177 400h4v15h-4zM185 395h4v20h-4zM209 405h4v10h-4zM217 402h4v13h-4zM233 392h4v23h-4zM257 396h4v19h-4zM273 392h4v23h-4zM305 399h4v16h-4zM313 392h4v23h-4zM321 384h4v31h-4zM337 386h4v29h-4zM361 393h4v22h-4zM385 389h4v26h-4zM401 389h4v26h-4zM417 389h4v26h-4zM433 393h4v22h-4zM441 386h4v29h-4zM449 386h4v29h-4zM457 384h4v31h-4zM473 368h4v47h-4zM497 389h4v26h-4zM505 382h4v33h-4zM513 381h4v34h-4z" fill="#808080"/>
<path d="M33 401h4v14h-4zM41 404h4v11h-4zM57 410h4v5h-4zM81 404h4v11h-4zM105 405h4v10h-4zM121 396h4v19h-4zM145 405h4v10h-4zM193 396h4v19h-4zM201 406h4v9h-4zM225 404h4v11h-4zM241 393h4v22h-4zM249 402h4v13h-4zM265 405h4v10h-4zM281 394h4v21h-4zM289 396h4v19h-4zM297 404h4v11h-4zM329 399h4v16h-4zM345 396h4v19h-4zM353 403h4v12h-4zM369 396h4v19h-4zM377 403h4v12h-4zM393 393h4v22h-4zM409 397h4v18h-4zM425 394h4v21h-4zM465 386h4v29h-4zM481 379h4v36h-4zM489 391h4v24h-4zM521 398h4v17h-4z" fill="#c0c0c0"/>
<path d="M4.5 335V356M12.5 330V352M20.5 330V351M28.5 311V350M36.5 298V327M44.5 296V331M52.5 311V345M60.5 321V342M68.5 319V354M76.5 312V341M84.5 315V343M92.5 311V343M100.5 319V351M108.5 311V336M116.5 279V312M124.5 286V311M132.5 286V306M140.5 256V292M148.5 270V289M156.5 273V286M164.5 263V279M172.5 248V277M180.5 262V284M188.5 257V278M196.5 239V270M204.5 226V251M212.5 221V241M220.5 213V256M228.5 231V255M236.5 208V239M244.5 231V305M252.5 235V267M260.5 197V248M268.5 196V230M276.5 160V206M284.5 175V200M292.5 169V190M300.5 176V193M308.5 176V207M316.5 192V234M324.5 207V276M332.5 225V258M340.5 236V266M348.5 242V284M356.5 246V270M364.5 260V286M372.5 264V298M380.5 269V295M388.5 265V283M396.5 242V284M404.5 243V274M412.5 250V274M420.5 261V279M428.5 262V278M436.5 244V269M444.5 228V255M452.5 232V246M460.5 203V243M468.5 179V217M476.5 117V185M484.5 131V177M492.5 102V145M500.5 109V174M508.5 108V147M516.5 67V124M524.5 59V81" stroke="#000080" stroke-width="1"/>
<rect x="2.5" y="344.5" width="4" height="9" fill="#fffff0" stroke="#000080"/>
<rect x="10.5" y="341.5" width="4" height="5" fill="#fffff0" stroke="#000080"/>
<rect x="18.5" y="340.5" width="4" height="10" fill="#ff0000" stroke="#000080"/>
<rect x="26.5" y="314.5" width="4" height="34" fill="#fffff0" stroke="#000080"/>
<rect x="34.5" y="312.5" width="4" height="13" fill="#ff0000" stroke="#000080"/>
<rect x="42.5" y="319.5" width="4" height="8" fill="#fffff0" stroke="#000080"/>
<rect x="50.5" y="316.5" width="4" height="18" fill="#ff0000" stroke="#000080"/>
<rect x="58.5" y="329.5" width="4" height="5" fill="#fffff0" stroke="#000080"/>
<rect x="66.5" y="330.5" width="4" height="2" fill="#fffff0" stroke="#000080"/>
<rect x="74.5" y="323.5" width="4" height="8" fill="#fffff0" stroke="#000080"/>
<rect x="82.5" y="320.5" width="4" height="3" fill="#ff0000" stroke="#000080"/>
<rect x="90.5" y="324.5" width="4" height="15" fill="#ff0000" stroke="#000080"/>
<rect x="98.5" y="327.5" width="4" height="13" fill="#fffff0" stroke="#000080"/>
<rect x="106.5" y="312.5" width="4" height="12" fill="#fffff0" stroke="#000080"/>
<rect x="114.5" y="294.5" width="4" height="17" fill="#fffff0" stroke="#000080"/>
<path d="M122 292.5h5" stroke="#000080"/>
<rect x="130.5" y="286.5" width="4" height="6" fill="#fffff0" stroke="#000080"/>
<rect x="138.5" y="275.5" width="4" height="11" fill="#fffff0" stroke="#000080"/>
<rect x="146.5" y="276.5" width="4" height="7" fill="#ff0000" stroke="#000080"/>
<rect x="154.5" y="277.5" width="4" height="4" fill="#fffff0" stroke="#000080"/>
<rect x="162.5" y="274.5" width="4" height="3" fill="#fffff0" stroke="#000080"/>
<rect x="170.5" y="262.5" width="4" height="12" fill="#fffff0" stroke="#000080"/>
<rect x="178.5" y="262.5" width="4" height="13" fill="#ff0000" stroke="#000080"/>
<rect x="186.5" y="262.5" width="4" height="14" fill="#fffff0" stroke="#000080"/>
<rect x="194.5" y="243.5" width="4" height="19" fill="#fffff0" stroke="#000080"/>
<rect x="202.5" y="226.5" width="4" height="14" fill="#fffff0" stroke="#000080"/>
<rect x="210.5" y="221.5" width="4" height="6" fill="#fffff0" stroke="#000080"/>
<rect x="218.5" y="221.5" width="4" height="17" fill="#ff0000" stroke="#000080"/>
<rect x="226.5" y="231.5" width="4" height="10" fill="#fffff0" stroke="#000080"/>
<rect x="234.5" y="231.5" width="4" height="2" fill="#ff0000" stroke="#000080"/>
<rect x="242.5" y="231.5" width="4" height="23" fill="#ff0000" stroke="#000080"/>
<rect x="250.5" y="247.5" width="4" height="7" fill="#fffff0" stroke="#000080"/>
<rect x="258.5" y="215.5" width="4" height="29" fill="#fffff0" stroke="#000080"/>
<rect x="266.5" y="202.5" width="4" height="14" fill="#fffff0" stroke="#000080"/>
<rect x="274.5" y="184.5" width="4" height="19" fill="#fffff0" stroke="#000080"/>
<rect x="282.5" y="180.5" width="4" height="6" fill="#fffff0" stroke="#000080"/>
<rect x="290.5" y="178.5" width="4" height="6" fill="#ff0000" stroke="#000080"/>
<path d="M298 181.5h5" stroke="#000080"/>
<rect x="306.5" y="183.5" width="4" height="10" fill="#ff0000" stroke="#000080"/>
<rect x="314.5" y="192.5" width="4" height="16" fill="#ff0000" stroke="#000080"/>
<rect x="322.5" y="208.5" width="4" height="40" fill="#ff0000" stroke="#000080"/>
<rect x="330.5" y="240.5" width="4" height="6" fill="#fffff0" stroke="#000080"/>
<rect x="338.5" y="239.5" width="4" height="23" fill="#ff0000" stroke="#000080"/>
<rect x="346.5" y="247.5" width="4" height="15" fill="#fffff0" stroke="#000080"/>
<rect x="354.5" y="248.5" width="4" height="21" fill="#ff0000" stroke="#000080"/>
<rect x="362.5" y="267.5" width="4" height="5" fill="#ff0000" stroke="#000080"/>
<rect x="370.5" y="270.5" width="4" height="21" fill="#ff0000" stroke="#000080"/>
<rect x="378.5" y="269.5" width="4" height="20" fill="#fffff0" stroke="#000080"/>
<rect x="386.5" y="267.5" width="4" height="10" fill="#ff0000" stroke="#000080"/>
<rect x="394.5" y="244.5" width="4" height="35" fill="#fffff0" stroke="#000080"/>
<rect x="402.5" y="244.5" width="4" height="12" fill="#ff0000" stroke="#000080"/>
<rect x="410.5" y="255.5" width="4" height="11" fill="#ff0000" stroke="#000080"/>
<rect x="418.5" y="266.5" width="4" height="8" fill="#ff0000" stroke="#000080"/>
<rect x="426.5" y="264.5" width="4" height="10" fill="#fffff0" stroke="#000080"/>
<rect x="434.5" y="253.5" width="4" height="10" fill="#fffff0" stroke="#000080"/>
<rect x="442.5" y="237.5" width="4" height="14" fill="#fffff0" stroke="#000080"/>
<rect x="450.5" y="235.5" width="4" height="4" fill="#ff0000" stroke="#000080"/>
<rect x="458.5" y="204.5" width="4" height="33" fill="#fffff0" stroke="#000080"/>
<rect x="466.5" y="184.5" width="4" height="21" fill="#fffff0" stroke="#000080"/>
<rect x="474.5" y="135.5" width="4" height="48" fill="#fffff0" stroke="#000080"/>
<rect x="482.5" y="137.5" width="4" height="4" fill="#ff0000" stroke="#000080"/>
<rect x="490.5" y="112.5" width="4" height="30" fill="#fffff0" stroke="#000080"/>
<rect x="498.5" y="109.5" width="4" height="28" fill="#ff0000" stroke="#000080"/>
<rect x="506.5" y="111.5" width="4" height="28" fill="#fffff0" stroke="#000080"/>
<rect x="514.5" y="67.5" width="4" height="42" fill="#fffff0" stroke="#000080"/>
<rect x="522.5" y="67.5" width="4" height="5" fill="#fffff0" stroke="#000080"/>
<polyline points="52.5,341.0 60.5,337.8 68.5,334.5 76.5,331.9 84.5,329.8 92.5,329.6 100.5,327.3 108.5,327.1 116.5,324.0 124.5,321.3 132.5,316.5 140.5,311.1 148.5,306.4 156.5,301.8 164.5,296.9 172.5,289.2 180.5,284.0 188.5,279.0 196.5,273.9 204.5,267.3 212.5,260.8 220.5,257.1 228.5,251.9 236.5,247.5 244.5,245.5 252.5,244.0 260.5,238.0 268.5,232.0 276.5,226.1 284.5,221.5 292.5,217.8 300.5,212.1 308.5,208.3 316.5,205.8 324.5,205.2 332.5,204.5 340.5,209.2 348.5,213.7 356.5,222.2 364.5,231.4 372.5,242.1 380.5,250.9 388.5,259.3 396.5,262.9 404.5,263.7 412.5,266.3 420.5,267.5 428.5,269.2 436.5,267.6 444.5,264.1 452.5,258.9 460.5,252.4 468.5,243.1 476.5,232.2 484.5,220.7 492.5,205.3 500.5,191.6 508.5,176.3 516.5,157.7 524.5,140.7" fill="none" stroke="#0000ff" stroke-width="1"/>
<path d="M554 400.5h4M554 384.5h4M554 369.5h4M554 354.5h4M554 338.5h4M554 323.5h4M554 308.5h4M554 293.5h4M554 277.5h4M554 262.5h4M554 247.5h4M554 231.5h4M554 216.5h4M554 201.5h4M554 186.5h4M554 170.5h4M554 155.5h4M554 140.5h4M554 124.5h4M554 109.5h4M554 94.5h4M554 79.5h4M554 63.5h4M554 48.5h4M554 33.5h4M36.5 417V422M84.5 417V422M132.5 417V422M180.5 417V422M228.5 417V422M276.5 417V422M324.5 417V422M372.5 417V422M420.5 417V422M468.5 417V422M516.5 417V422" stroke="#000" stroke-width="1"/>
<g fill="#000080"><rect x="8" y="2" width="1" height="8"/><rect x="6" y="4" width="5" height="4"/></g>
<rect x="7" y="5" width="3" height="2" fill="#fff"/>
<g fill="#0000ff">
<rect x="4" y="13" width="1" height="2"/><rect x="5" y="15" width="1" height="2"/><rect x="6" y="16" width="1" height="3"/><rect x="5" y="18" width="1" height="2"/><rect x="4" y="20" width="1" height="2"/>
<rect x="8" y="13" width="1" height="1"/><rect x="7" y="14" width="1" height="2"/><rect x="9" y="14" width="1" height="2"/>
<rect x="7" y="19" width="1" height="2"/><rect x="9" y="19" width="1" height="2"/><rect x="8" y="21" width="1" height="1"/>
<rect x="10" y="16" width="2" height="1"/><rect x="10" y="17" width="1" height="1"/><rect x="10" y="18" width="2" height="1"/>
<rect x="12" y="14" width="1" height="2"/><rect x="12" y="19" width="1" height="2"/>
</g>
</svg>
<div class="t" style="left:16.17px;top:2px;color:#000080;transform:scaleX(0.833)">K+S</div><div class="t" style="left:35.0px;top:2px;color:#000080;transform:scaleX(0.929)">AG</div><div class="t" style="left:51.0px;top:2px;color:#000080;transform:scaleX(0.917)">AKTIEN</div><div class="t" style="left:87.0px;top:2px;color:#000080;transform:scaleX(0.85)">O.N.</div><div class="t" style="left:106.06px;top:2px;color:#000080;transform:scaleX(0.938)">,SDFG.DE,</div><div class="t" style="left:153.03px;top:2px;color:#000080;transform:scaleX(0.971)">Monthly</div><div class="t" style="left:190.0px;top:2px;color:#000080;transform:scaleX(1.0)">-</div><div class="t" style="left:195.0px;top:2px;color:#000080;transform:scaleX(0.78)">31.03.1999</div><div class="t" style="left:236.0px;top:2px;color:#000080;transform:scaleX(1.0)">-</div><div class="t" style="left:242.0px;top:2px;color:#000080;transform:scaleX(0.82)">31.08.2004</div><div class="t" style="left:286.0px;top:2px;color:#000080;transform:scaleX(1.0)">-</div><div class="t" style="left:291.0px;top:2px;color:#000080;transform:scaleX(0.84)">30.75</div><div class="t" style="left:16.0px;top:13px;color:#0000ff;transform:scaleX(1.0)">SMA</div><div class="t" style="left:39.97px;top:13px;color:#0000ff;transform:scaleX(1.034)">[Close,</div><div class="t" style="left:72.22px;top:13px;color:#0000ff;transform:scaleX(0.778)">10]:26.011</div>

<div class="t" style="left:578px;top:3px;color:#000;transform:scaleX(0.94)">EUR</div>
<div class="yl" style="top:396px">9</div><div class="yl" style="top:380px">10</div><div class="yl" style="top:365px">11</div><div class="yl" style="top:350px">12</div><div class="yl" style="top:334px">13</div><div class="yl" style="top:319px">14</div><div class="yl" style="top:304px">15</div><div class="yl" style="top:289px">16</div><div class="yl" style="top:273px">17</div><div class="yl" style="top:258px">18</div><div class="yl" style="top:243px">19</div><div class="yl" style="top:227px">20</div><div class="yl" style="top:212px">21</div><div class="yl" style="top:197px">22</div><div class="yl" style="top:182px">23</div><div class="yl" style="top:166px">24</div><div class="yl" style="top:151px">25</div><div class="yl" style="top:136px">26</div><div class="yl" style="top:120px">27</div><div class="yl" style="top:105px">28</div><div class="yl" style="top:90px">29</div><div class="yl" style="top:75px">30</div><div class="yl" style="top:59px">31</div><div class="yl" style="top:44px">32</div><div class="yl" style="top:29px">33</div><div class="xl" style="left:3px;width:33px;transform:scaleX(0.9)">1999</div><div class="xl" style="left:36px;width:48px;transform:scaleX(1.0)">Jul</div><div class="xl" style="left:84px;width:48px;transform:scaleX(0.9)">2000</div><div class="xl" style="left:132px;width:48px;transform:scaleX(1.0)">Jul</div><div class="xl" style="left:180px;width:48px;transform:scaleX(0.9)">2001</div><div class="xl" style="left:228px;width:48px;transform:scaleX(1.0)">Jul</div><div class="xl" style="left:276px;width:48px;transform:scaleX(0.9)">2002</div><div class="xl" style="left:324px;width:48px;transform:scaleX(1.0)">Jul</div><div class="xl" style="left:372px;width:48px;transform:scaleX(0.9)">2003</div><div class="xl" style="left:420px;width:48px;transform:scaleX(1.0)">Jul</div><div class="xl" style="left:468px;width:48px;transform:scaleX(0.9)">2004</div><div class="xl" style="left:516px;width:36px;transform:scaleX(1.0)">Jul</div>
<div class="t" style="left:261px;top:439px;color:#a0a0a8;font-size:11px;transform:none;font-family:'Liberation Sans',sans-serif;">©</div><div class="t" style="left:271px;top:439px;color:#9a9aa2;font-size:10px;transform:scaleX(0.957);font-family:'Liberation Sans',sans-serif;filter:none">tradesignal.com</div>
</body></html>
